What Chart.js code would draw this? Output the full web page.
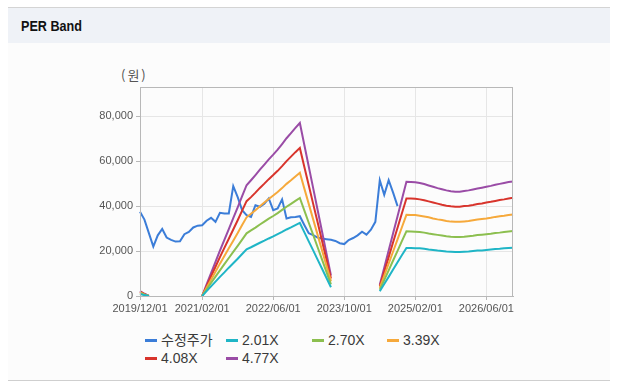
<!DOCTYPE html>
<html lang="ko">
<head>
    <meta charset="UTF-8">
    <title>PER Band</title>
    <script src="https://cdn.jsdelivr.net/npm/chart.js@4.4.0/dist/chart.umd.min.js"></script>
    <style>
        body {
            margin: 0;
            padding: 0;
            width: 622px;
            height: 386px;
            background: #ffffff;
            font-family: "Liberation Sans", Arial, sans-serif;
            position: relative;
            overflow: hidden;
        }
        .header {
            position: absolute;
            left: 8px;
            top: 7px;
            width: 602px;
            height: 35px;
            background: #eff2f7;
            border-top: 1px solid #d4d4d4;
        }
        .header span {
            position: absolute;
            left: 13px;
            top: 9px;
            font-family: "Liberation Sans", Arial, sans-serif;
            font-weight: bold;
            font-size: 15px;
            color: #111;
            transform: scaleX(0.84);
            transform-origin: left center;
        }
        .panel {
            position: absolute;
            left: 8px;
            top: 43px;
            width: 602px;
            height: 337px;
            background: #fcfcfc;
            border-bottom: 1px solid #cfcfcf;
        }
        .unit {
            position: absolute;
            left: 121px;
            top: 65px;
            font-size: 13px;
            letter-spacing: 2px;
            color: #555;
            font-family: "Noto Sans CJK KR", sans-serif;
        }
        #chartBox {
            position: absolute;
            left: 0;
            top: 60px;
        }
        .legend-item {
            position: absolute;
            height: 18px;
            line-height: 18px;
            font-size: 14px;
            color: #3a3a3a;
            font-family: "Liberation Sans", Arial, "Noto Sans CJK KR", sans-serif;
            white-space: nowrap;
        }
        .legend-item i {
            display: inline-block;
            width: 12px;
            height: 3px;
            vertical-align: middle;
            margin-right: 4px;
            margin-top: -2px;
        }
    </style>
</head>
<body>
    <div class="panel"></div>
    <div class="header"><span>PER Band</span></div>
    <div class="unit">(원)</div>
    <canvas id="chartBox" width="622" height="260"></canvas>
    <div id="legend"></div>

    <script>
        // months from 2019/12 to 2026/12
        const labels = [];
        for (let i = 0; i <= 84; i++) {
            const m = 11 + i;
            labels.push((2019 + Math.floor(m / 12)) + '/' + String(m % 12 + 1).padStart(2, '0') + '/01');
        }
        const xTickLabels = ['2019/12/01', '2021/02/01', '2022/06/01', '2023/10/01', '2025/02/01', '2026/06/01'];
        const yTicks = [0, 20000, 40000, 60000, 80000];

        const seriesNames = ['수정주가', '2.01X', '2.70X', '3.39X', '4.08X', '4.77X'];
        const seriesColors = ['#3b7dd8', '#1fb5c6', '#8cbf4f', '#f6a93b', '#d8342c', '#9a4ca6'];

        // 수정주가 (2019/12 ~ 2024/10)
        const price = [37500, 34000, 28000, 22000, 27000, 29800, 26000, 25000, 24200, 24300,
            27500, 28500, 30500, 31300, 31500, 33500, 34800, 33000, 37000, 36700,
            36700, 48900, 44000, 38200, 36000, 35200, 40400, 39700, 41000, 43400,
            38200, 39000, 43000, 34500, 35000, 35200, 35500, 31600, 27900, 27100,
            26000, 25600, 25300, 25000, 24500, 23500, 23100, 24900, 25800, 27000,
            28600, 27300, 29500, 33000, 51500, 45000, 51500, 46000, 40000];

        // bands: three runs (2019/12~2020/02, 2021/02~2023/07, 2024/06~2026/12)
        const band201 = [
            [900, 400, 0],
            [0, 2200, 4300, 6400, 8500, 10500, 12600, 14600, 16600, 18700, 20800, 21700, 22700, 23700, 24600,
             25600, 26500, 27500, 28500, 29600, 30500, 31500, 32500, 28400, 24300, 20300, 16200, 12100, 8000, 3900],
            [2100, 5300, 8500, 11800, 15000, 18200, 21400, 21400, 21300, 21200, 21000, 20700, 20500, 20200, 20000,
             19800, 19700, 19600, 19600, 19700, 19800, 20000, 20200, 20300, 20500, 20700, 20900, 21000, 21200, 21400, 21500]
        ];
        const band270 = [
            [1200, 550, 0],
            [0, 2900, 5800, 8600, 11400, 14200, 16900, 19600, 22300, 25100, 27900, 29200, 30400, 31800, 33100,
             34400, 35600, 36900, 38300, 39700, 41000, 42300, 43600, 38100, 32600, 27200, 21700, 16200, 10600, 5200],
            [2800, 7100, 11400, 15800, 20100, 24500, 28800, 28700, 28600, 28500, 28200, 27800, 27500, 27200, 26900,
             26600, 26400, 26300, 26300, 26400, 26600, 26800, 27100, 27300, 27500, 27700, 28000, 28200, 28500, 28700, 28900]
        ];
        const band339 = [
            [1600, 700, 0],
            [0, 3700, 7200, 10800, 14400, 17800, 21200, 24600, 28000, 31600, 35000, 36600, 38200, 39900, 41600,
             43200, 44700, 46300, 48000, 49900, 51500, 53200, 54800, 47900, 41000, 34100, 27200, 20300, 13400, 6500],
            [3600, 9000, 14400, 19800, 25200, 30700, 36100, 36000, 36000, 35700, 35400, 35000, 34500, 34100, 33800,
             33400, 33100, 33000, 33000, 33200, 33400, 33700, 34000, 34300, 34500, 34800, 35200, 35500, 35700, 36000, 36300]
        ];
        const band408 = [
            [1900, 850, 0],
            [0, 4400, 8700, 13000, 17300, 21400, 25500, 29600, 33700, 38000, 42200, 44000, 46000, 48100, 50000,
             52000, 53800, 55700, 57800, 60000, 62000, 64000, 65900, 57500, 49300, 41000, 32800, 24500, 16100, 7800],
            [4300, 10800, 17300, 23900, 30400, 36900, 43400, 43400, 43300, 43000, 42600, 42100, 41600, 41100, 40600,
             40200, 39900, 39700, 39700, 40000, 40200, 40500, 40900, 41200, 41600, 41900, 42300, 42700, 43000, 43400, 43700]
        ];
        const band477 = [
            [2200, 1000, 0],
            [0, 5200, 10200, 15200, 20200, 25000, 29800, 34600, 39400, 44400, 49300, 51500, 53800, 56200, 58500,
             60800, 62900, 65100, 67600, 70200, 72500, 74800, 77000, 67300, 57600, 48000, 38300, 28600, 18800, 9100],
            [5000, 12600, 20200, 27900, 35500, 43200, 50800, 50700, 50600, 50300, 49800, 49200, 48600, 48000, 47500,
             47000, 46600, 46400, 46400, 46700, 47000, 47400, 47800, 48200, 48600, 49000, 49500, 49900, 50300, 50700, 51000]
        ];

        // put the runs into a full month table, leaving gaps in between
        function fillRuns(runs) {
            const starts = [0, 14, 54];
            const out = new Array(labels.length).fill(null);
            runs.forEach((run, k) => run.forEach((v, j) => { out[starts[k] + j] = v; }));
            return out;
        }
        const priceFull = new Array(labels.length).fill(null);
        price.forEach((v, i) => { priceFull[i] = v; });

        const seriesData = [priceFull, fillRuns(band201), fillRuns(band270), fillRuns(band339), fillRuns(band408), fillRuns(band477)];

        const plotBorder = {
            id: 'plotBorder',
            afterDraw(chart) {
                const a = chart.chartArea;
                const ctx = chart.ctx;
                ctx.save();
                ctx.strokeStyle = '#b8b8b8';
                ctx.lineWidth = 1;
                ctx.strokeRect(a.left + 0.5, a.top + 0.5, a.right - a.left - 1, a.bottom - a.top);
                ctx.restore();
            }
        };

        new Chart(document.getElementById('chartBox').getContext('2d'), {
            type: 'line',
            data: {
                labels: labels,
                datasets: seriesNames.map((name, i) => ({
                    label: name,
                    data: seriesData[i],
                    borderColor: seriesColors[i],
                    backgroundColor: seriesColors[i],
                    borderWidth: 2,
                    pointRadius: 0,
                    tension: 0,
                    spanGaps: false,
                    order: i === 0 ? 10 : i
                }))
            },
            options: {
                responsive: false,
                animation: false,
                layout: { padding: { top: 27, right: 109, left: 0, bottom: 0 } },
                plugins: {
                    legend: { display: false },
                    tooltip: { enabled: false }
                },
                scales: {
                    x: {
                        offset: false,
                        afterBuildTicks(scale) {
                            scale.ticks = xTickLabels.map(l => ({ value: labels.indexOf(l) }));
                        },
                        afterFit(scale) { scale.height = 24; },
                        ticks: {
                            autoSkip: false,
                            maxRotation: 0,
                            padding: 2,
                            color: '#555',
                            font: { family: '"Liberation Sans", Arial', size: 11 }
                        },
                        grid: { color: '#e6e6e6', tickLength: 4, tickColor: '#b8b8b8' },
                        border: { color: '#b8b8b8' }
                    },
                    y: {
                        min: 0,
                        max: 93000,
                        afterBuildTicks(scale) {
                            scale.ticks = yTicks.map(v => ({ value: v }));
                        },
                        afterFit(scale) { scale.width = 140; },
                        ticks: {
                            padding: 3,
                            color: '#555',
                            font: { family: '"Liberation Sans", Arial', size: 11 },
                            callback: v => v.toLocaleString('en-US')
                        },
                        grid: { color: '#e6e6e6', tickLength: 4, tickColor: '#b8b8b8' },
                        border: { color: '#b8b8b8' }
                    }
                }
            },
            plugins: [plotBorder]
        });

        // legend laid out like the original two rows
        const legendPos = [[145, 331], [226, 331], [312, 331], [387, 331], [145, 349], [226, 349]];
        const legend = document.getElementById('legend');
        seriesNames.forEach((name, i) => {
            const item = document.createElement('div');
            item.className = 'legend-item';
            item.style.left = legendPos[i][0] + 'px';
            item.style.top = legendPos[i][1] + 'px';
            item.innerHTML = '<i style="background:' + seriesColors[i] + '"></i>' + name;
            legend.appendChild(item);
        });
    </script>
</body>
</html>
